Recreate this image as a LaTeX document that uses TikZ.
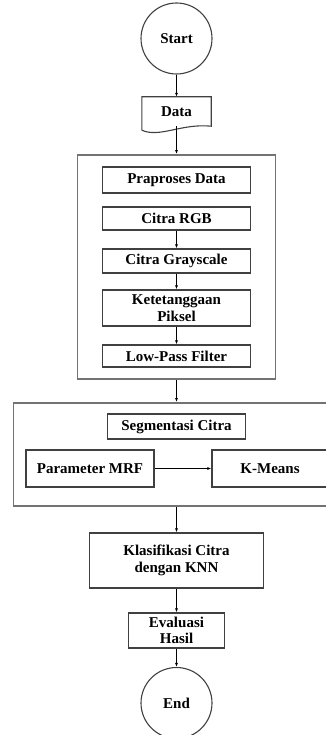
\documentclass[tikz,border=0pt]{standalone}
\usepackage{fontspec}
\setmainfont{Liberation Serif}
\usetikzlibrary{arrows.meta}
\tikzset{
  lbl/.style={font=\fontsize{15}{16.5}\selectfont\bfseries, align=center, inner sep=0pt},
  box/.style={lbl, draw=black!75, line width=1.2pt},
  outer/.style={draw=black!55, line width=1.8pt, inner sep=0pt},
  term/.style={lbl, circle, draw=black!75, line width=1.1pt, minimum size=71pt},
}
\begin{document}
\begin{tikzpicture}[x=1pt,y=-1pt]
      \useasboundingbox (0,0) rectangle (326,735);
      \draw
        (176.5,267) node[outer, minimum width=198pt, minimum height=224pt] (pre){}
        (176.5,454.5) node[outer, minimum width=326pt, minimum height=103pt] (seg){}
        (176.5,38.5) node[term] (start){Start}
        (176.5,111.5) node[lbl, minimum width=69pt, minimum height=29pt] (data){Data}
        (176.5,180) node[box, minimum width=148pt, minimum height=26pt] (prap){Praproses Data}
        (176.5,218.5) node[box, minimum width=148pt, minimum height=23pt] (rgb){Citra RGB}
        (176.5,261) node[box, minimum width=148pt, minimum height=24pt] (gray){Citra Grayscale}
        (176.5,308) node[box, minimum width=148pt, minimum height=36pt] (ket){Ketetanggaan\\Piksel}
        (176.5,356) node[box, minimum width=148pt, minimum height=22pt] (lpf){Low-Pass Filter}
        (176.5,426.5) node[box, minimum width=138pt, minimum height=25pt] (segc){Segmentasi Citra}
        (90,468.5) node[box, minimum width=128pt, minimum height=37pt] (mrf){Parameter MRF}
        (270,468.5) node[box, minimum width=116pt, minimum height=37pt] (kmeans){K-Means}
        (176.5,560.5) node[box, minimum width=174pt, minimum height=55pt] (klas){Klasifikasi Citra\\dengan KNN}
        (176.5,630.5) node[box, minimum width=96pt, minimum height=35pt] (eval){Evaluasi\\Hasil}
        (176.5,703) node[term] (end){End};
      % data symbol with wavy bottom
      \draw[draw=black!75, line width=1.1pt]
        ([yshift=-4pt]data.south west) -- (data.north west) -- (data.north east)
        -- (data.south east) .. controls +(-30,-3) and +(18,8) .. ([yshift=-4pt]data.south west);
      \begin{scope}[-{Latex[length=4pt,width=3pt]}, line width=0.9pt]
        \draw (start) to (data);
        \draw (data) to (pre);
        \draw (rgb) to (gray);
        \draw (gray) to (ket);
        \draw (ket) to (lpf);
        \draw (pre) to (seg);
        \draw (mrf) to (kmeans);
        \draw (seg) to (klas);
        \draw (klas) to (eval);
        \draw (eval) to (end);
      \end{scope}
    \end{tikzpicture}
\end{document}
